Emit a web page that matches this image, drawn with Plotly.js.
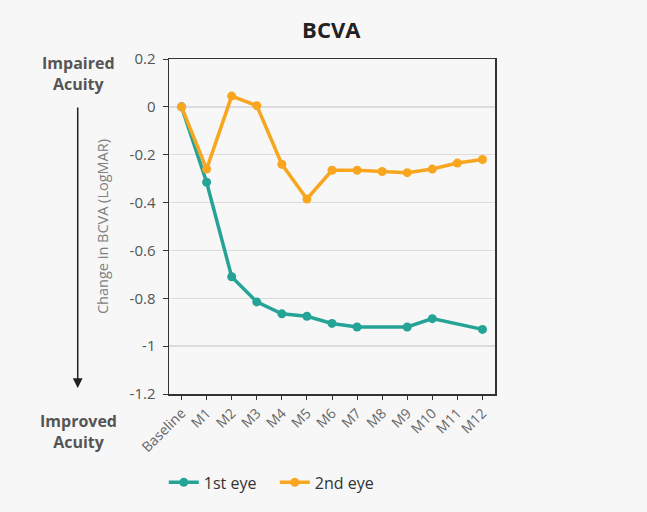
<!DOCTYPE html>
<html><head><meta charset="utf-8">
<script src="https://cdn.plot.ly/plotly-3.0.1.min.js"></script>
<style>html,body{margin:0;padding:0;background:#f7f7f7;}#chart{width:647px;height:512px;}</style>
</head><body><div id="chart"></div>
<script>
const categories = ["Baseline","M1","M2","M3","M4","M5","M6","M7","M8","M9","M10","M11","M12"];
const firstEye = [0, -0.315, -0.71, -0.815, -0.865, -0.875, -0.905, -0.92, null, -0.92, -0.885, null, -0.93];
const secondEye = [0, -0.26, 0.045, 0.005, -0.24, -0.385, -0.265, -0.265, -0.27, -0.275, -0.26, -0.235, -0.22];
const yTicks = [0.2, 0, -0.2, -0.4, -0.6, -0.8, -1, -1.2];
const yTickText = ["0.2","0","-0.2","-0.4","-0.6","-0.8","-1","-1.2"];

const font = "'Open Sans', 'Noto Sans', sans-serif";
const traces = [
  {x: categories, y: firstEye, name: "1st eye", type: "scatter", mode: "lines+markers",
   connectgaps: true, line: {color: "#26a397", width: 3.5}, marker: {color: "#26a397", size: 9}},
  {x: categories, y: secondEye, name: "2nd eye", type: "scatter", mode: "lines+markers",
   connectgaps: true, line: {color: "#f8a620", width: 3.5}, marker: {color: "#f8a620", size: 9}}
];
const layout = {
  width: 647, height: 512,
  paper_bgcolor: "#f7f7f7", plot_bgcolor: "#f7f7f7",
  margin: {l: 169, r: 152, t: 59, b: 116},
  font: {family: font, color: "#555", size: 13},
  title: {text: "<b>BCVA</b>", font: {family: font, size: 22, color: "#222"},
          x: 0.512, xanchor: "center", y: 0.941, yanchor: "middle"},
  showlegend: true,
  legend: {orientation: "h", x: -0.016, xanchor: "left", y: -0.264, yanchor: "middle",
           font: {family: font, size: 16, color: "#333"}, bgcolor: "rgba(0,0,0,0)", itemwidth: 30,
           entrywidth: 66, entrywidthmode: "pixels", tracegroupgap: 0},
  xaxis: {type: "category", range: [-0.5, 12.5], tickangle: -45, ticks: "outside", ticklen: 4, tickcolor: "#333",
          showline: true, linecolor: "#333", linewidth: 1.5, mirror: true, showgrid: false,
          tickfont: {size: 14, color: "#666"}, zeroline: false},
  yaxis: {range: [-1.2, 0.2], tickvals: yTicks, ticktext: yTickText, ticks: "outside", ticklen: 5,
          ticklabelstandoff: 4,
          tickcolor: "#333", showline: true, linecolor: "#333", linewidth: 1.5, mirror: true,
          gridcolor: "#dcdcdc", gridwidth: 1.5, zeroline: false, tickfont: {size: 15, color: "#555"},
          title: {text: "Change in BCVA (LogMAR)", font: {size: 14.5, color: "#808080"}, standoff: 17}},
  annotations: [
    {xref: "paper", yref: "paper", x: -0.279, y: 0.958, text: "<b>Impaired<br>Acuity</b>",
     showarrow: false, font: {size: 16, color: "#555"}, xanchor: "center", yanchor: "middle"},
    {xref: "paper", yref: "paper", x: -0.279, y: -0.113, text: "<b>Improved<br>Acuity</b>",
     showarrow: false, font: {size: 16, color: "#555"}, xanchor: "center", yanchor: "middle"},
    {xref: "paper", yref: "paper", x: -0.28, y: 0.018, text: "", showarrow: true,
     ax: 0, ay: -282, arrowhead: 2, arrowsize: 1.3, arrowwidth: 1.5, arrowcolor: "#222"}
  ]
};
Plotly.newPlot("chart", traces, layout, {staticPlot: true});
</script></body></html>
